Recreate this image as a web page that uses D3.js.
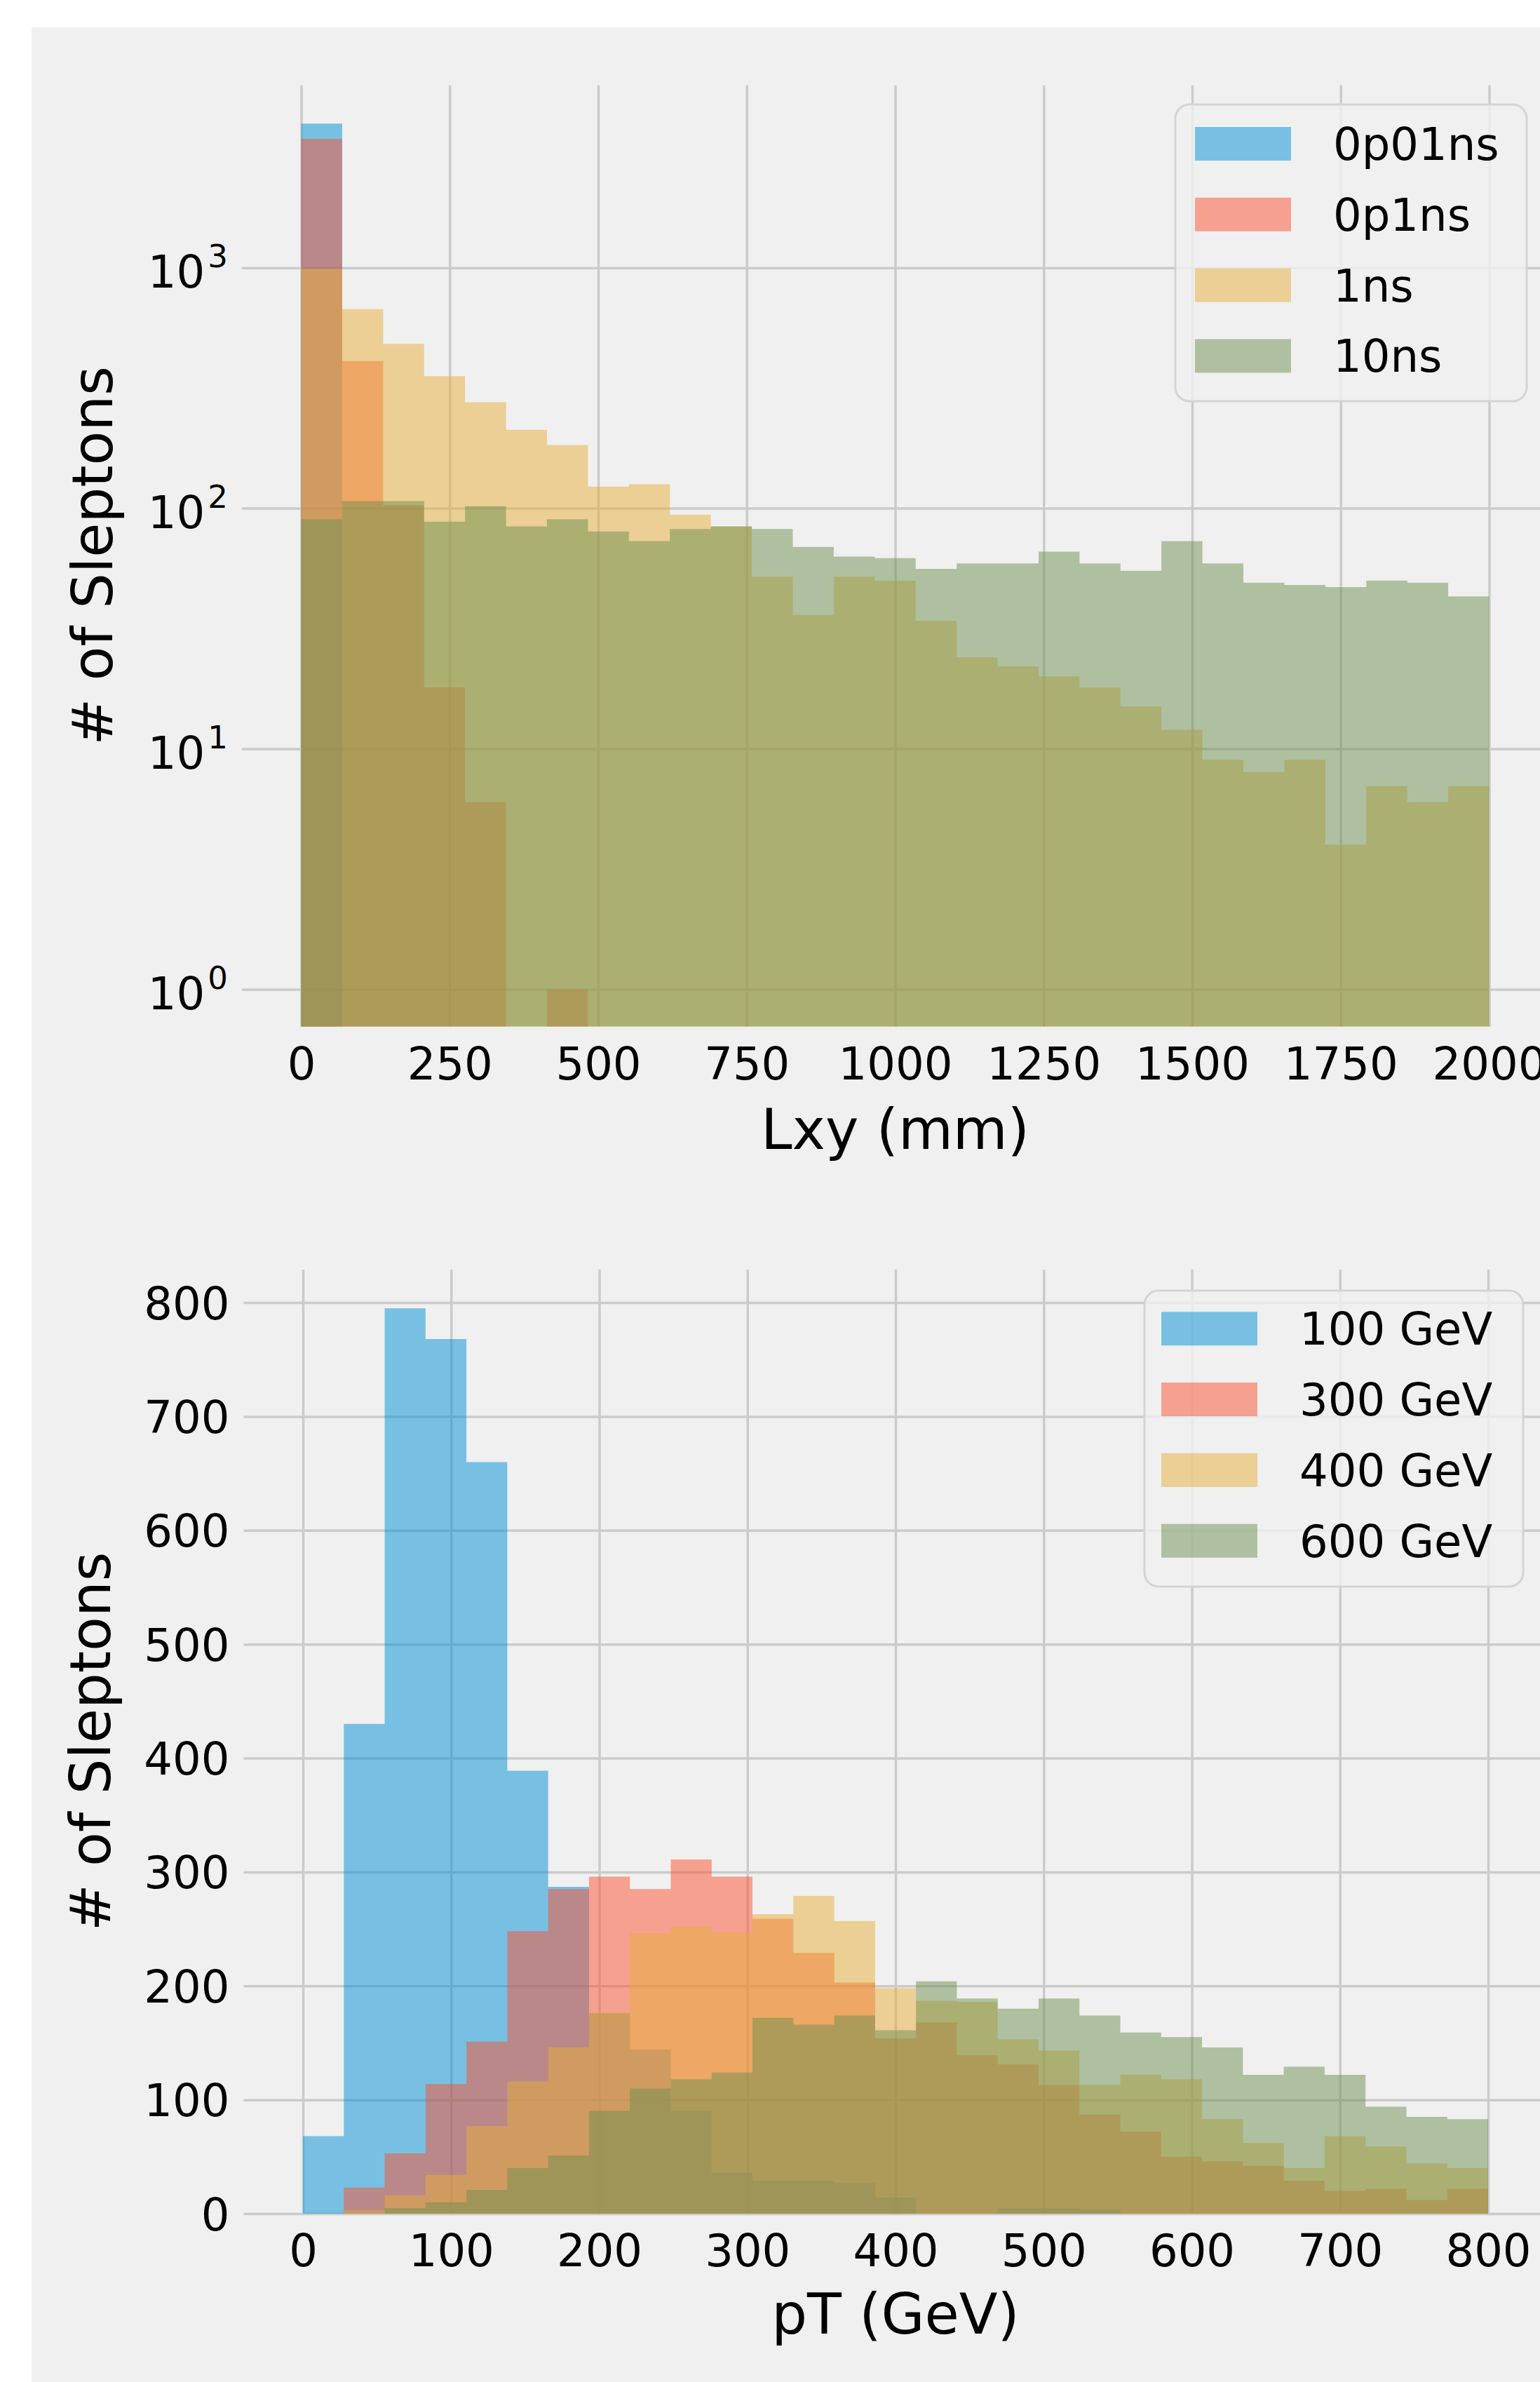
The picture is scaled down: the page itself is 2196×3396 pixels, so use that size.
<!DOCTYPE html>
<html>
<head>
<meta charset="utf-8">
<script src="https://cdn.jsdelivr.net/npm/d3@7"></script>
<style>
	html, body { margin:0; padding:0; background:#fff; }
	svg { display:block; font-family:"DejaVu Sans", sans-serif; }
</style>
</head>
<body>
<svg id="fig" width="2196" height="3396"></svg>
<script>
var colors = ['#008fd5', '#fc4f30', '#e5ae38', '#6d904f'];

// Lxy: 29 equal bins over 0..2000 mm, log counts
var lxyRange = [0, 2000];
var lxyNames = ['0p01ns', '0p1ns', '1ns', '10ns'];
var lxy0p01ns = [3970, 0, 0, 0, 0, 0, 0, 0, 0, 0, 0, 0, 0, 0, 0, 0, 0, 0, 0, 0, 0, 0, 0, 0, 0, 0, 0, 0, 0];
var lxy0p1ns  = [3430, 409, 103, 18, 6, 0, 1, 0, 0, 0, 0, 0, 0, 0, 0, 0, 0, 0, 0, 0, 0, 0, 0, 0, 0, 0, 0, 0, 0];
var lxy1ns    = [990, 672, 482, 354, 276, 212, 183, 123, 126, 94, 84, 52, 36, 52, 50, 34, 24, 22, 20, 18, 15, 12, 9, 8, 9, 4, 7, 6, 7];
var lxy10ns   = [90, 107, 107, 88, 102, 84, 90, 80, 73, 82, 84, 82, 69, 63, 62, 56, 59, 59, 66, 59, 55, 73, 59, 49, 48, 47, 50, 49, 43];
var lxyXTicks = [0, 250, 500, 750, 1000, 1250, 1500, 1750, 2000];
var lxyYTicks = [1, 10, 100, 1000];

// pT: 29 equal bins over 0..800 GeV
var ptRange = [0, 800];
var ptNames = ['100 GeV', '300 GeV', '400 GeV', '600 GeV'];
var pt100 = [68, 430, 795, 768, 660, 389, 287, 176, 144, 90, 36, 29, 29, 27, 14, 0, 0, 5, 5, 4, 0, 0, 0, 0, 0, 0, 0, 0, 0];
var pt300 = [0, 23, 53, 114, 151, 248, 285, 296, 285, 311, 296, 259, 229, 203, 154, 168, 139, 131, 113, 87, 72, 50, 46, 42, 29, 20, 22, 12, 22];
var pt400 = [0, 3, 16, 34, 77, 116, 146, 177, 246, 252, 247, 263, 279, 257, 198, 187, 186, 153, 143, 113, 122, 118, 83, 62, 40, 68, 59, 44, 40];
var pt600 = [0, 0, 5, 10, 21, 40, 51, 90, 110, 118, 124, 172, 166, 174, 161, 204, 189, 180, 189, 174, 159, 155, 146, 122, 129, 122, 94, 85, 83];
var ptXTicks = [0, 100, 200, 300, 400, 500, 600, 700, 800];
var ptYTicks = [0, 100, 200, 300, 400, 500, 600, 700, 800];

var svg = d3.select('#fig');
svg.append('rect').attr('width', 2196).attr('height', 3396).attr('fill', '#ffffff');
svg.append('rect').attr('x', 45).attr('y', 39).attr('width', 2151).attr('height', 3357).attr('fill', '#f0f0f0');

var histPanel = function(p) {
	var g = svg.append('g');
	var x = d3.scaleLinear().domain(p.xDomain).range([p.left, p.right]);
	var y = (p.log ? d3.scaleLog() : d3.scaleLinear()).domain(p.yDomain).range([p.bottom, p.top]);
	var base = p.bottom;

	var xAxis = g.append('g').attr('transform', 'translate(0,' + p.bottom + ')')
		.call(d3.axisBottom(x).tickValues(p.xTicks).tickSize(-(p.bottom - p.top)).tickPadding(30).tickFormat(d3.format('d')));
	var yAxis = g.append('g').attr('transform', 'translate(' + p.left + ',0)')
		.call(d3.axisLeft(y).tickValues(p.yTicks).tickSize(-(p.right - p.left)).tickPadding(20).tickFormat(p.log ? function() { return ''; } : d3.format('d')));
	[xAxis, yAxis].forEach(function(a) {
		a.select('.domain').remove();
		a.selectAll('line').attr('stroke', '#cbcbcb').attr('stroke-width', 3.5);
		a.selectAll('text').attr('fill', '#000').attr('font-size', 64).attr('font-family', '"DejaVu Sans", sans-serif');
	});
	if (p.log) {
		yAxis.selectAll('.tick text').attr('dy', null).each(function(d) {
			var t = d3.select(this);
			t.append('tspan').attr('dy', 28).text('10');
			t.append('tspan').attr('dy', -29).attr('dx', 4).attr('font-size', 45).text(Math.round(Math.log10(d)));
		});
	} else {
		yAxis.selectAll('.tick text').attr('dy', '0.36em');
	}

	var n = p.series[0].length;
	var w = (p.range[1] - p.range[0]) / n;
	p.series.forEach(function(vals, s) {
		var d = '', open = false;
		vals.forEach(function(v, i) {
			var x0 = x(p.range[0] + i * w), x1 = x(p.range[0] + (i + 1) * w);
			if (v > 0) {
				if (!open) { d += 'M' + x0 + ',' + base; open = true; }
				d += 'V' + y(v) + 'H' + x1;
			} else if (open) {
				d += 'V' + base + 'Z'; open = false;
			}
		});
		if (open) d += 'V' + base + 'Z';
		g.append('path').attr('d', d).attr('fill', colors[s]).attr('fill-opacity', 0.5);
	});

	g.append('text').attr('x', (p.left + p.right) / 2).attr('y', p.xLabelY)
		.attr('text-anchor', 'middle').attr('font-size', 80).text(p.xLabel);
	g.append('text').attr('transform', 'translate(' + p.yLabelX + ',' + ((p.top + p.bottom) / 2) + ') rotate(-90)')
		.attr('text-anchor', 'middle').attr('font-size', 80).text('# of Sleptons');

	var L = p.legend;
	g.append('rect').attr('x', L.x).attr('y', L.y).attr('width', L.w).attr('height', L.h).attr('rx', 20)
		.attr('fill', '#f0f0f0').attr('fill-opacity', 0.8).attr('stroke', '#d4d4d4').attr('stroke-width', 3);
	p.names.forEach(function(name, s) {
		var cy = L.first + s * 100.8;
		g.append('rect').attr('x', L.patchX).attr('y', cy - 24).attr('width', 137).attr('height', 48)
			.attr('fill', colors[s]).attr('fill-opacity', 0.5);
		g.append('text').attr('x', L.patchX + 197).attr('y', cy + 23).attr('font-size', 64).text(name);
	});
};

histPanel({
	left: 344.8, right: 2208.2, top: 121.4, bottom: 1463.6,
	xDomain: [-100, 2100], yDomain: [0.70, 5740], log: true,
	range: lxyRange, xTicks: lxyXTicks, yTicks: lxyYTicks,
	series: [lxy0p01ns, lxy0p1ns, lxy1ns, lxy10ns], names: lxyNames,
	xLabel: 'Lxy (mm)', xLabelY: 1638, yLabelX: 160,
	legend: { x: 1676, y: 149, w: 501, h: 423, first: 205, patchX: 1704 }
});

histPanel({
	left: 347.5, right: 2206.5, top: 1810, bottom: 3156,
	xDomain: [-40, 840], yDomain: [0, 829], log: false,
	range: ptRange, xTicks: ptXTicks, yTicks: ptYTicks,
	series: [pt100, pt300, pt400, pt600], names: ptNames,
	xLabel: 'pT (GeV)', xLabelY: 3327, yLabelX: 157,
	legend: { x: 1632, y: 1840, w: 540, h: 422, first: 1894.3, patchX: 1656 }
});
</script>
</body>
</html>
